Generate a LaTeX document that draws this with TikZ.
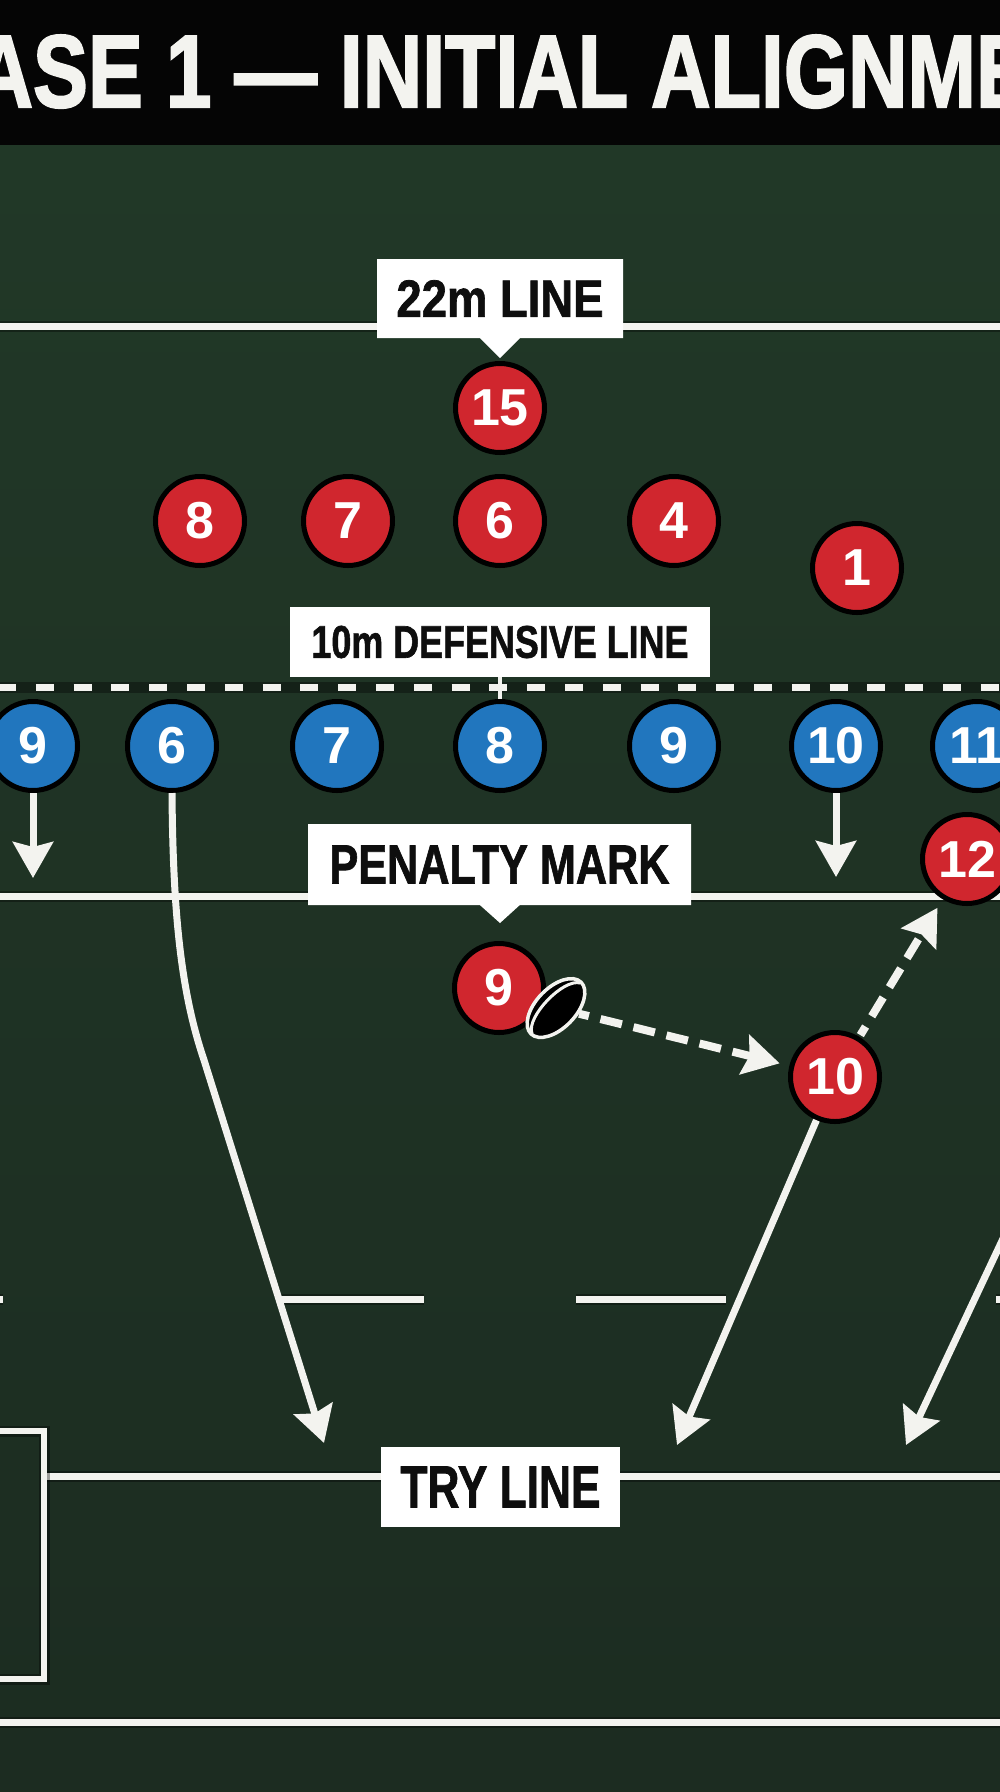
\documentclass[tikz,border=0pt]{standalone}
\usepackage{fontspec}
\setmainfont{Liberation Sans}
\newfontfamily\heavyfont[FakeBold=2.2]{Liberation Sans Bold}
\newfontfamily\labelfont[FakeBold=1.4]{Liberation Sans Bold}
\usepackage{graphicx}
\usetikzlibrary{arrows.meta,shapes.geometric,shapes.callouts,calc}

\definecolor{fieldtop}{RGB}{33,56,39}
\definecolor{fieldmid}{RGB}{44,76,52}
\definecolor{fieldbot}{RGB}{28,44,33}
\definecolor{pred}{RGB}{208,38,46}
\definecolor{pblue}{RGB}{33,118,190}
\definecolor{chalk}{RGB}{243,243,239}
\definecolor{ink}{RGB}{14,14,14}
\definecolor{band}{RGB}{5,5,5}

\newcommand{\fitlabel}[3]{\resizebox{#1pt}{#2pt}{\labelfont #3}}

\begin{document}
\begin{tikzpicture}[x=1pt,y=-1pt,
  redp/.style={circle, fill=pred, draw=black, line width=5pt, minimum size=89pt,
    inner sep=0pt, text=white, font=\fontsize{52}{52}\selectfont\bfseries},
  bluep/.style={redp, fill=pblue},
  fieldline/.style={draw=chalk, line width=7pt,
    preaction={draw=black, draw opacity=.35, line width=11pt}},
  lbl/.style={fill=white, inner sep=0pt, text=ink},
  run/.style={draw=chalk, line width=7pt, -{Stealth[length=36pt,width=40pt,inset=5pt]}},
  pass/.style={run, line width=8pt, dash pattern=on 22pt off 12pt, dash phase=12pt},
]
\useasboundingbox (0,0) rectangle (1000,1792);
\clip (0,0) rectangle (1000,1792);

% background
\fill[top color=fieldtop, middle color=fieldmid, bottom color=fieldbot] (0,145) rectangle (1000,1792);
\fill[band] (0,0) rectangle (1000,145);
\node[text=chalk, anchor=base, inner sep=0pt] (title) at (500,107)
  {\scalebox{0.80}[1]{\fontsize{103}{103}\selectfont\heavyfont PHASE 1 — INITIAL ALIGNMENT}};

% field lines
\draw[fieldline] (0,326) -- (1000,326);
\draw[fieldline, dash pattern=on 18pt off 19.8pt, dash phase=2pt] (0,687) -- (1000,687);
\draw[fieldline] (0,896) -- (1000,896);
\draw[fieldline] (0,1299) -- (3,1299);
\draw[fieldline] (278,1299) -- (424,1299);
\draw[fieldline] (576,1299) -- (726,1299);
\draw[fieldline] (996,1299) -- (1000,1299);
\draw[fieldline] (44,1476) -- (1000,1476);
\draw[fieldline, line width=6pt] (-10,1431) -- (44,1431) -- (44,1679) -- (-10,1679);
\draw[fieldline] (0,1722) -- (1000,1722);

% players
\node[redp] (r15) at (500,408) {15};
\node[redp] (r8) at (200,521) {8};
\node[redp] (r7) at (348,521) {7};
\node[redp] (r6) at (500,521) {6};
\node[redp] (r4) at (674,521) {4};
\node[redp] (r1) at (857,568) {1};
\node[bluep] (b9a) at (33,746) {9};
\node[bluep] (b6) at (172,746) {6};
\node[bluep] (b7) at (337,746) {7};
\node[bluep] (b8) at (500,746) {8};
\node[bluep] (b9b) at (674,746) {9};
\node[bluep] (b10) at (836,746) {10};
\node[bluep] (b11) at (977,746) {11};
\node[redp] (r9) at (499,988) {9};
\node[redp] (r10) at (835,1077) {10};

% labels
\node[lbl, rectangle callout, callout absolute pointer={(500,358)}, callout pointer width=40pt,
  minimum width=246pt, minimum height=79pt] (l22) at (500,298.5) {\fitlabel{207}{36.7}{22m LINE}};
\node[lbl, minimum width=420pt, minimum height=70pt] (l10) at (500,642) {\fitlabel{377}{32}{10m DEFENSIVE LINE}};
\draw[chalk, line width=4pt] (l10.south) -- (b8.north);
\node[lbl, rectangle callout, callout absolute pointer={(500,923)}, callout pointer width=40pt,
  minimum width=383pt, minimum height=81pt] (lpen) at (499.5,864.5) {\fitlabel{340}{38}{PENALTY MARK}};
\node[lbl, minimum width=239pt, minimum height=80pt] (ltry) at (500.5,1487) {\fitlabel{200}{41}{TRY LINE}};

% runs
\coordinate (t9) at (33,878);
\coordinate (t10) at (836,877);
\coordinate (t6) at (324,1443);
\coordinate (tr10) at (677,1445);
\coordinate (src3) at (1094,1045);
\coordinate (t3) at (906,1445);
\draw[run] (b9a) -- (t9);
\draw[run] (b10) -- (t10);
\draw[run] (b6.south) .. controls (173,920) and (182,995) .. (204,1060) -- (t6);
\draw[run] (r10) -- (tr10);
\draw[run] (src3) -- (t3);

% ball and passes
\node[ellipse, fill=black, draw=chalk, line width=3.5pt, minimum width=72pt, minimum height=40pt,
  inner sep=0pt, rotate=46] (ball) at (556,1008) {};
\draw[chalk, line width=3pt] ($(ball.west)!0.04!(ball.east)$)
  .. controls (ball.north west) and (ball.north east) .. ($(ball.east)!0.04!(ball.west)$);
\node[redp] (r12) at (967,859) {12};
\draw[pass, shorten >=10pt] (ball) -- (r10);
\draw[pass, shorten >=10pt, shorten <=2pt] (r10) -- (r12);
\end{tikzpicture}
\end{document}
